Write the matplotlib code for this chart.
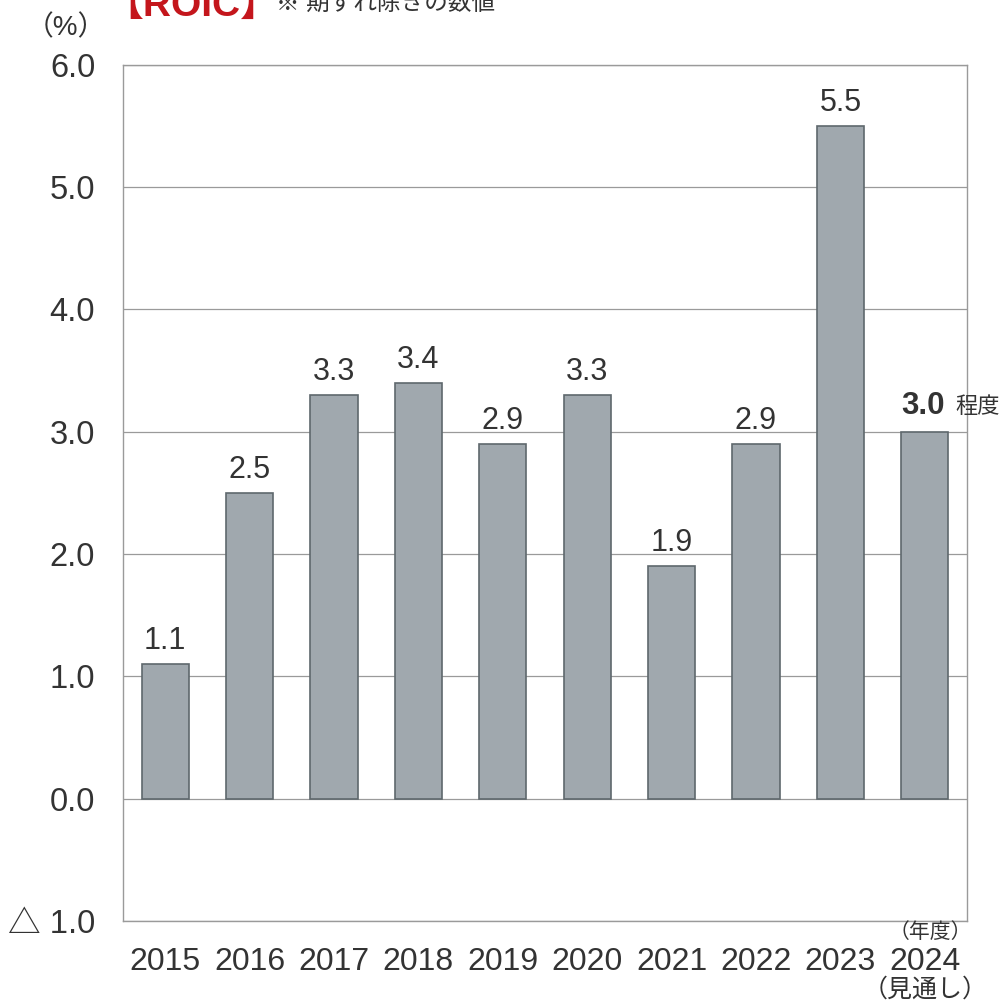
import matplotlib
matplotlib.use("Agg")
import matplotlib.pyplot as plt
import numpy as np

plt.rcParams['font.family'] = ['Liberation Sans', 'Noto Sans CJK JP', 'DejaVu Sans']

# données ROIC (%)
annees = ["2015", "2016", "2017", "2018", "2019", "2020", "2021", "2022", "2023", "2024"]
roic = [1.1, 2.5, 3.3, 3.4, 2.9, 3.3, 1.9, 2.9, 5.5, 3.0]
yticks = [-1.0, 0.0, 1.0, 2.0, 3.0, 4.0, 5.0, 6.0]
ytick_labels = ["△ 1.0", "0.0", "1.0", "2.0", "3.0", "4.0", "5.0", "6.0"]

txt = "#333333"
bar_col = "#a0a8ae"
edge_col = "#5f686d"
grid_col = "#9a9a9a"

fig = plt.figure(figsize=(10, 10.06), dpi=100)
ax = fig.add_axes([0.123, 0.0845, 0.844, 0.851])

x = np.arange(len(annees))
ax.bar(x, roic, width=0.56, color=bar_col, edgecolor=edge_col, linewidth=1.2, zorder=3)

ax.set_xlim(-0.5, len(annees) - 0.5)
ax.set_ylim(-1.0, 6.0)
ax.set_yticks(yticks)
ax.set_yticklabels(ytick_labels)
ax.set_xticks(x)
ax.set_xticklabels(annees)
ax.tick_params(axis="y", length=0, pad=20, labelsize=23.5, labelcolor=txt)
ax.tick_params(axis="x", length=0, pad=19, labelsize=23, labelcolor=txt)
ax.grid(axis="y", color=grid_col, linewidth=0.9, zorder=0)
for s in ax.spines.values():
    s.set_color(grid_col)
    s.set_linewidth(1.0)

# étiquettes de valeur
for i, v in enumerate(roic):
    if i == len(roic) - 1:
        ax.annotate(f"{v:.1f}", (x[i], v), textcoords="offset points", xytext=(-1, 8),
                    ha="center", va="bottom", fontsize=22.5, fontweight="bold", color=txt)
        ax.annotate("程度", (x[i], v), textcoords="offset points", xytext=(22, 10),
                    ha="left", va="bottom", fontsize=16, color=txt)
    else:
        ax.annotate(f"{v:.1f}", (x[i], v), textcoords="offset points", xytext=(0, 6),
                    ha="center", va="bottom", fontsize=22, color=txt)

# textes hors du graphique
fig.text(0.026, 0.972, "（%）", fontsize=20, color=txt, ha="left", va="center")
fig.text(0.104, 0.995, "【ROIC】", fontsize=28, fontweight="bold", color="#c4161c",
         ha="left", va="center")
fig.text(0.276, 0.995, "※ 期ずれ除きの数値", fontsize=17, color=txt, ha="left", va="center")
fig.text(0.93, 0.0736, "（年度）", fontsize=15, color=txt, ha="center", va="center")
fig.text(0.925, 0.016, "（見通し）", fontsize=18, color=txt, ha="center", va="center")

plt.savefig("out.png", dpi=100)
plt.close()
